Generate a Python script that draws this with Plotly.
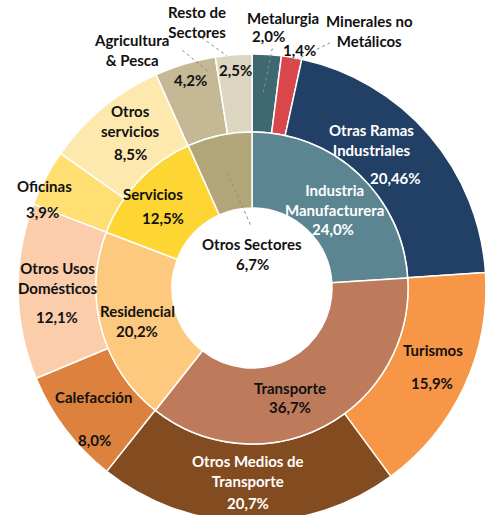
import math
import plotly.graph_objects as go

# ---------------- data ----------------
inner_labels = ["Industria Manufacturera", "Transporte", "Residencial", "Servicios", "Otros Sectores"]
inner_values = [24.0, 36.7, 20.2, 12.5, 6.7]
inner_display = ["Industria<br>Manufacturera", "Transporte", "Residencial", "Servicios", "Otros Sectores"]

outer_labels = ["Metalurgia", "Minerales no Metálicos", "Otras Ramas Industriales", "Turismos",
                "Otros Medios de Transporte", "Calefacción", "Otros Usos Domésticos", "Oficinas",
                "Otros servicios", "Agricultura & Pesca", "Resto de Sectores"]
outer_values = [2.0, 1.4, 20.46, 15.9, 20.7, 8.0, 12.1, 3.9, 8.5, 4.2, 2.5]
outer_display = ["Metalurgia", "Minerales no<br>Metálicos", "Otras Ramas<br>Industriales", "Turismos",
                 "Otros Medios de<br>Transporte", "Calefacción", "Otros Usos<br>Domésticos", "Oficinas",
                 "Otros<br>servicios", "Agricultura<br>& Pesca", "Resto de<br>Sectores"]

# ---------------- style ----------------
inner_colors = ["#5b8591", "#bd7b5c", "#fdc97f", "#fed633", "#b2a679"]
outer_colors = ["#3e6970", "#d9464b", "#223f65", "#f79646", "#834b20", "#dc823e",
                "#fbcdab", "#ffdf72", "#fde8ae", "#c5b995", "#dcd6c1"]
inner_tc = ["white", "#111", "#111", "#111", "#111"]
outer_tc = ["#111", "#111", "white", "#111", "white", "#111", "#111", "#111", "#111", "#111", "#111"]

# label offsets relative to the slice centroid (pixels): (name dx, name dy, pct dx, pct dy)
outer_off = [(19, -75, 4, -57), (84, -65, 14, -46), (-28, -21, -4, 17), (4, -20, 3, 13),
             (-1, -12, -1, 20), (-3, -9, -2, 34), (0, -13, 0, 26), (-35, -10, -37, 16),
             (3, -17, 3, 16), (-65, -51, -6, -21), (-40, -72, -1, -24)]
inner_off = [(2, -2, 0, 27), (-17, -4, -17, 15), (-1, -8, -1, 12), (-13, -13, -3, 11), None]
# leader lines (offsets from slice centroid): outer index -> (x0,y0,x1,y1)
outer_lead = {0: (-1, -1, 8, -45), 1: (5, -33, 45, -53), 9: (-14, -51, 14, -28), 10: (-35, -56, -10, -38)}

W, H = 500, 522
FONT = "Lato"
FS = 15
cx, cy = 252, 288          # centre in px from the figure's top-left
R_out = 234
R_mid = 156
R_hole = 80


def fmt(v):
    t = ("%.2f" % v)
    if t.endswith("0"):
        t = t[:-1]
    return t.replace(".", ",") + "%"


def dom(r):
    return dict(x=[(cx - r) / W, (cx + r) / W], y=[max(0, (H - cy - r) / H), min(1, (H - cy + r) / H)])


def px2paper(x, y):
    return x / W, 1 - y / H


def centroids(values, r):
    tot = sum(values)
    out = []
    c = 0
    for v in values:
        a = 2 * math.pi * (c + v / 2) / tot
        out.append((cx + r * math.sin(a), cy - r * math.cos(a)))
        c += v
    return out


fig = go.Figure()
fig.add_trace(go.Pie(values=outer_values, labels=outer_labels, sort=False, direction="clockwise",
                     rotation=0, hole=R_mid / R_out, domain=dom(R_out), textinfo="none",
                     marker=dict(colors=outer_colors, line=dict(color="white", width=1.5)),
                     showlegend=False, hoverinfo="label+value"))
fig.add_trace(go.Pie(values=inner_values, labels=inner_labels, sort=False, direction="clockwise",
                     rotation=0, hole=R_hole / R_mid, domain=dom(R_mid), textinfo="none",
                     marker=dict(colors=inner_colors, line=dict(color="white", width=1.5)),
                     showlegend=False, hoverinfo="label+value"))

ann = []
shapes = []


def add_text(x, y, text, color):
    xp, yp = px2paper(x, y)
    ann.append(dict(x=xp, y=yp, xref="paper", yref="paper", text=text, showarrow=False,
                    font=dict(family=FONT, size=FS, color=color), xanchor="center", yanchor="middle"))


def add_line(x0, y0, x1, y1):
    a, b = px2paper(x0, y0)
    c, d = px2paper(x1, y1)
    shapes.append(dict(type="line", xref="paper", yref="paper", x0=a, y0=b, x1=c, y1=d,
                       line=dict(color="#8c8c8c", width=1, dash="dot")))


oc = centroids(outer_values, (R_mid + R_out) / 2)
for i, (x, y) in enumerate(oc):
    ndx, ndy, pdx, pdy = outer_off[i]
    add_text(x + ndx, y + ndy, "<b>%s</b>" % outer_display[i], outer_tc[i])
    add_text(x + pdx, y + pdy, "<b>%s</b>" % fmt(outer_values[i]), outer_tc[i])
    if i in outer_lead:
        a, b, c, d = outer_lead[i]
        add_line(x + a, y + b, x + c, y + d)

ic = centroids(inner_values, (R_hole + R_mid) / 2)
for i, (x, y) in enumerate(ic):
    if inner_off[i] is None:
        add_text(cx, cy - 44, "<b>%s</b>" % inner_display[i], inner_tc[i])
        add_text(cx, cy - 24, "<b>%s</b>" % fmt(inner_values[i]), inner_tc[i])
        add_line(x, y, x + 23, y + 52)
        continue
    ndx, ndy, pdx, pdy = inner_off[i]
    add_text(x + ndx, y + ndy, "<b>%s</b>" % inner_display[i], inner_tc[i])
    add_text(x + pdx, y + pdy, "<b>%s</b>" % fmt(inner_values[i]), inner_tc[i])

fig.update_layout(width=W, height=H, margin=dict(l=0, r=0, t=0, b=0),
                  paper_bgcolor="white", plot_bgcolor="white",
                  annotations=ann, shapes=shapes, font=dict(family=FONT))
fig.write_html("out.html", config={"displayModeBar": False},
               post_script="document.body.style.margin='0';document.body.style.overflow='hidden';"
                           "document.documentElement.style.overflow='hidden';")
